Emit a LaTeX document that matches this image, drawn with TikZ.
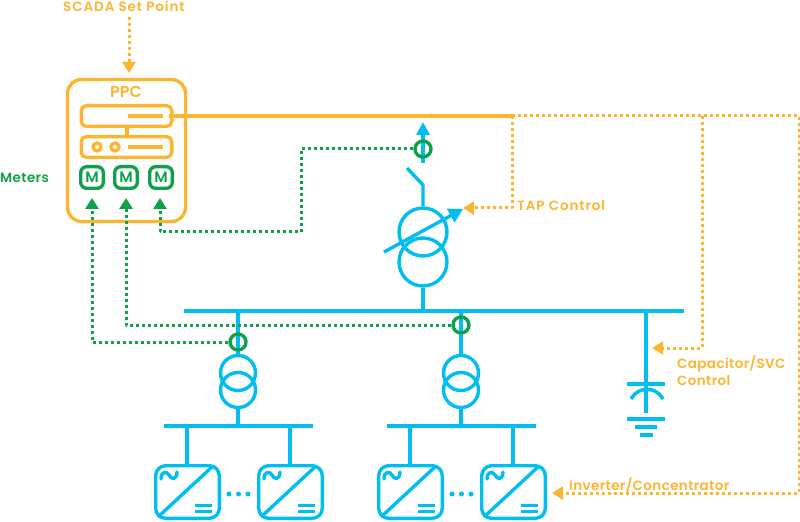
\documentclass[tikz,border=0pt]{standalone}
\usepackage{fontspec}
\setmainfont{Poppins}[BoldFont={Poppins SemiBold}]
\usetikzlibrary{arrows.meta,shapes}

\definecolor{ppcorange}{HTML}{FDB52F}
\definecolor{linecyan}{HTML}{00BDF2}
\definecolor{metergreen}{HTML}{0FA14A}

\tikzset{
  wire/.style={draw=linecyan,line width=3.4bp},
  busbar/.style={draw=none,fill=linecyan,rectangle,inner sep=0pt,minimum height=4.5bp},
  winding/.style={draw=linecyan,line width=3.4bp,circle,inner sep=0pt},
  ctring/.style={draw=metergreen,line width=3.4bp,circle,inner sep=0pt,minimum size=16bp},
  invbox/.style={draw=linecyan,line width=3.4bp,rectangle,rounded corners=10bp,inner sep=0pt,minimum width=63.6bp,minimum height=52.6bp,anchor=north west},
  ppcpanel/.style={draw=ppcorange,line width=3.4bp,rectangle,rounded corners=5bp,inner sep=0pt,minimum width=90.6bp,minimum height=20.6bp},
  meterbox/.style={draw=metergreen,line width=3.4bp,rectangle,rounded corners=6bp,inner sep=0pt,minimum width=22.6bp,minimum height=21.6bp,text=metergreen,font=\fontsize{15}{15}\selectfont\bfseries},
  lamp/.style={draw=ppcorange,line width=3.4bp,circle,inner sep=0pt,minimum size=8bp},
  orangetext/.style={text=ppcorange,font=\fontsize{13.5}{17}\selectfont\addfontfeature{LetterSpace=3}\bfseries,align=left,inner sep=0pt},
  widetext/.style={orangetext,font=\fontsize{13.5}{17}\selectfont\addfontfeature{LetterSpace=7}\bfseries},
  sigorange/.style={draw=ppcorange,line width=3bp,dash pattern=on 3bp off 3bp},
  siggreen/.style={draw=metergreen,line width=3bp,dash pattern=on 3bp off 3bp},
  tiporange/.style={-{Triangle[length=11bp,width=13bp,fill=ppcorange]}},
  tipgreen/.style={-{Triangle[length=11bp,width=13bp,fill=metergreen]}},
}

\begin{document}
\begin{tikzpicture}[x=1bp,y=-1bp,line join=bevel]
\useasboundingbox (0,0) rectangle (800,522);

% Node: buses
\node [busbar,minimum width=500bp] (mainbus) at (434,311) {};
\node [busbar,minimum width=149bp] (busleft) at (238.5,426) {};
\node [busbar,minimum width=149bp] (busright) at (461.5,426) {};

% Node: main transformer
\node [winding,minimum size=48bp] (t0up) at (423,232) {};
\node [winding,minimum size=48bp] (t0low) at (423,262) {};
\coordinate (swhinge) at (423,185);
\coordinate (swfree) at (407,168);
\coordinate (feedbot) at (423,163);
\coordinate (feedtop) at (423,122);
\coordinate (vartail) at (384,252);
\coordinate (varhead) at (463,209);

% Edge: main transformer
\draw [wire] (mainbus.north -| t0low) -- (t0low.south);
\draw [wire] (t0up.north) -- (swhinge) -- (swfree);
\draw [wire,-{Triangle[length=13bp,width=13bp]}] (feedbot) -- (feedtop);
\draw [wire,-{Triangle[length=14bp,width=15bp]}] (vartail) -- (varhead);

% Node: feeder transformers
\node [winding,minimum size=35bp] (t1up) at (238,373) {};
\node [winding,minimum size=35bp] (t1low) at (238,390) {};
\node [winding,minimum size=35bp] (t2up) at (461,373) {};
\node [winding,minimum size=35bp] (t2low) at (461,390) {};

% Edge: feeders
\draw [wire] (mainbus.south -| t1up) -- (t1up.north);
\draw [wire] (t1low.south) -- (busleft.north -| t1low);
\draw [wire] (mainbus.south -| t2up) -- (t2up.north);
\draw [wire] (t2low.south) -- (busright.north -| t2low);

% Node: inverter 1
\begin{scope}[shift={(154,464)}]
  \node [invbox] (inv1) at (0,0) {};
  \draw [wire] (59,2) -- (4,53);
  \draw [wire,line cap=round] (7,15) .. controls (7,7) and (13,7) .. (15,11) .. controls (17,16) and (23,16) .. (23,8);
  \draw [wire,line width=3bp] (41,41) -- (58,41);
  \draw [wire,line width=3bp] (41,47) -- (58,47);
\end{scope}
% Node: inverter 2
\begin{scope}[shift={(257,464)}]
  \node [invbox] (inv2) at (0,0) {};
  \draw [wire] (59,2) -- (4,53);
  \draw [wire,line cap=round] (7,15) .. controls (7,7) and (13,7) .. (15,11) .. controls (17,16) and (23,16) .. (23,8);
  \draw [wire,line width=3bp] (41,41) -- (58,41);
  \draw [wire,line width=3bp] (41,47) -- (58,47);
\end{scope}
% Node: inverter 3
\begin{scope}[shift={(377,464)}]
  \node [invbox] (inv3) at (0,0) {};
  \draw [wire] (59,2) -- (4,53);
  \draw [wire,line cap=round] (7,15) .. controls (7,7) and (13,7) .. (15,11) .. controls (17,16) and (23,16) .. (23,8);
  \draw [wire,line width=3bp] (41,41) -- (58,41);
  \draw [wire,line width=3bp] (41,47) -- (58,47);
\end{scope}
% Node: inverter 4
\begin{scope}[shift={(480,464)}]
  \node [invbox] (inv4) at (0,0) {};
  \draw [wire] (59,2) -- (4,53);
  \draw [wire,line cap=round] (7,15) .. controls (7,7) and (13,7) .. (15,11) .. controls (17,16) and (23,16) .. (23,8);
  \draw [wire,line width=3bp] (41,41) -- (58,41);
  \draw [wire,line width=3bp] (41,47) -- (58,47);
\end{scope}

% Edge: bus to inverters
\draw [wire] (busleft.south -| 187,0) -- (inv1.north -| 187,0);
\draw [wire] (busleft.south -| 290,0) -- (inv2.north -| 290,0);
\draw [wire] (busright.south -| 410,0) -- (inv3.north -| 410,0);
\draw [wire] (busright.south -| 513,0) -- (inv4.north -| 513,0);

% Node: dots between inverters
\fill [linecyan] (229,494) circle (2.5bp) (238.5,494) circle (2.5bp) (248,494) circle (2.5bp);
\fill [linecyan] (452,494) circle (2.5bp) (461.5,494) circle (2.5bp) (471,494) circle (2.5bp);

% Node: capacitor and earth
\node [busbar,minimum width=38bp] (capplate) at (646,384) {};
\node [busbar,minimum width=38bp] (earth1) at (646,419) {};
\node [busbar,minimum width=22bp] (earth2) at (646,427) {};
\node [busbar,minimum width=13bp] (earth3) at (646,435) {};
\coordinate (capend) at (646,413);
\draw [wire] (mainbus.south -| capplate) -- (capend);
\draw [wire,line width=3.5bp] (631,399) .. controls (636,391) and (641,389.5) .. (647,389.5) .. controls (653,389.5) and (658,391) .. (663,399);

% Node: ppc
\begin{scope}
  \node [draw=ppcorange,line width=3.4bp,rectangle,rounded corners=14bp,inner sep=0pt,minimum width=118bp,minimum height=142bp] (ppc) at (126.5,150.5) {};
  \node [text=ppcorange,font=\fontsize{16}{16}\selectfont\bfseries,inner sep=0pt] (ppclabel) at (126,92) {PPC};
  \node [ppcpanel] (panelup) at (126.5,116) {};
  \node [ppcpanel] (paneldown) at (126.5,147) {};
  \node [lamp] (lamp1) at (97,147) {};
  \node [lamp] (lamp2) at (115,147) {};
  \coordinate (dashup) at (128,116);
  \coordinate (dashupend) at (163,116);
  \coordinate (dashdown) at (128,147);
  \coordinate (dashdownend) at (163,147);
  \draw [draw=ppcorange,line width=4bp] (dashup) -- (dashupend);
  \draw [draw=ppcorange,line width=4bp] (dashdown) -- (dashdownend);
  \draw [draw=ppcorange,line width=4bp] (panelup.south) -- (paneldown.north);
\end{scope}

% Node: meters
\node [meterbox] (m1) at (92,177.5) {M};
\node [meterbox] (m2) at (126,177.5) {M};
\node [meterbox] (m3) at (161,177.5) {M};

% Node: current sensors
\node [ctring] (ct0) at (423,149) {};
\node [ctring] (ct1) at (238,342) {};
\node [ctring] (ct2) at (461,325) {};

% Edge: meters
\coordinate (m1tip) at (92,198);
\coordinate (m2tip) at (126,198);
\coordinate (m3tip) at (160,198);
\draw [siggreen,tipgreen] (ct1.west) -- (92,342) -- (m1tip);
\draw [siggreen,tipgreen] (ct2.west) -- (126,325) -- (m2tip);
\draw [siggreen,tipgreen] (ct0.west) -- (301,149) -- (301,232) -- (160,232) -- (m3tip);

% Edge: control
\coordinate (split1) at (512,116);
\coordinate (split2) at (702,116);
\coordinate (farcorner) at (799,116);
\coordinate (taptip) at (463,208);
\coordinate (captip) at (652,348);
\coordinate (invtip) at (552,493);
\coordinate (setfrom) at (129,17);
\coordinate (settip) at (129,73);
\draw [draw=ppcorange,line width=3.4bp] (dashupend -| panelup.east) ++(-5,0) -- (split1);
\draw [sigorange] (split1) -- (farcorner) -- (799,493) -- (563,493);
\draw [sigorange,tiporange] (563,493) -- (invtip);
\draw [sigorange,tiporange] (split1) -- (512,208) -- (taptip);
\draw [sigorange,tiporange] (split2) -- (702,348) -- (captip);
\draw [sigorange,tiporange] (setfrom) -- (settip);

% Node: labels
\node [widetext,anchor=west] (setlabel) at (63,6) {SCADA Set Point};
\node [widetext,anchor=west] (taplabel) at (517,206) {TAP Control};
\node [orangetext,anchor=north west] (caplabel) at (677,356) {Capacitor/SVC\\Control};
\node [orangetext,anchor=west] (invlabel) at (569,485) {Inverter/Concentrator};
\node [orangetext,text=metergreen,anchor=west] (meterlabel) at (0,178) {Meters};
%
\end{tikzpicture}
\end{document}
